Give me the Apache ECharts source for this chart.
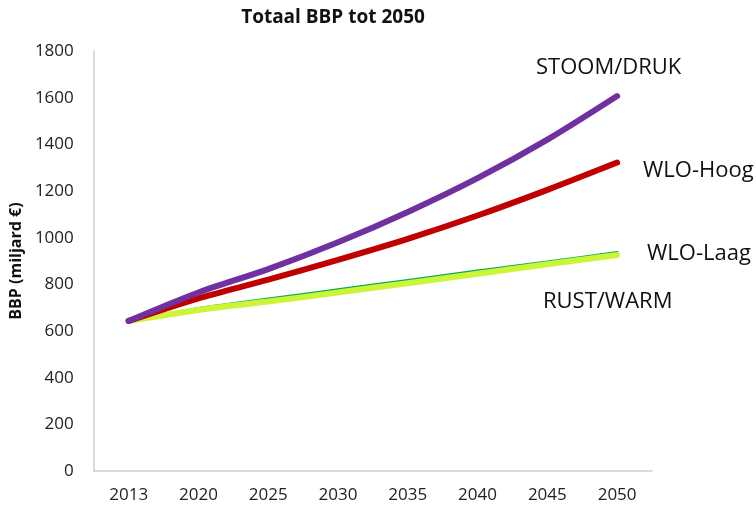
<!DOCTYPE html>
<html lang="nl">
<head>
    <meta charset="utf-8">
    <title>Totaal BBP tot 2050</title>
    <script src="https://cdn.jsdelivr.net/npm/echarts@6/dist/echarts.min.js"></script>
    <style>
        html, body { margin: 0; padding: 0; background: #fff; }
        #chart { width: 756px; height: 508px; }
    </style>
</head>
<body>
<div id="chart"></div>
<script>
    // jaren op de x-as
    var years = ['2013', '2020', '2025', '2030', '2035', '2040', '2045', '2050'];

    // BBP in miljard euro
    var stoomDruk = [643, 765, 865, 980, 1110, 1255, 1420, 1607];
    var wloHoog = [643, 740, 820, 905, 995, 1095, 1205, 1322];
    var wloLaag = [643, 697, 737, 777, 817, 857, 896, 936];
    var rustWarm = [643, 690, 726, 765, 805, 845, 886, 926];

    var font = '"Open Sans", "Liberation Sans", sans-serif';

    // losse labels naast de lijnen
    function label(x, y, text) {
        return {
            type: 'text', x: x, y: y,
            style: { text: text, fontFamily: font, fontSize: 22, fill: '#111', verticalAlign: 'middle' }
        };
    }

    var chart = echarts.init(document.getElementById('chart'));
    var option = {
        animation: false,
        title: {
            text: 'Totaal BBP tot 2050',
            left: 328,
            top: 3,
            textAlign: 'center',
            textStyle: { fontFamily: font, fontSize: 19, fontWeight: 'bold', color: '#111' }
        },
        grid: { left: 93, right: 104, top: 51, bottom: 37 },
        xAxis: {
            type: 'category',
            data: years,
            axisLine: { lineStyle: { color: '#d0d0d0', width: 1.5 } },
            axisTick: { show: false },
            axisLabel: { fontFamily: font, fontSize: 17, color: '#222', margin: 16 }
        },
        yAxis: {
            type: 'value',
            min: 0,
            max: 1800,
            interval: 200,
            name: 'BBP (miljard €)',
            nameLocation: 'middle',
            nameGap: 64,
            nameTextStyle: { fontFamily: font, fontSize: 16, fontWeight: 'bold', color: '#111' },
            axisLine: { show: true, lineStyle: { color: '#d0d0d0', width: 1.5 } },
            axisTick: { show: false },
            splitLine: { show: false },
            axisLabel: {
                fontFamily: font, fontSize: 17, color: '#222', margin: 20,
                formatter: function (v) { return String(v); }
            }
        },
        series: [
            {
                name: 'WLO-Laag', type: 'line', data: wloLaag, smooth: 0.3, symbol: 'none',
                lineStyle: { color: '#00b050', width: 3, cap: 'round' }
            },
            {
                name: 'RUST/WARM', type: 'line', data: rustWarm, smooth: 0.3, symbol: 'none',
                lineStyle: { color: '#ccf53a', width: 6, cap: 'round' }
            },
            {
                name: 'WLO-Hoog', type: 'line', data: wloHoog, smooth: 0.3, symbol: 'none',
                lineStyle: { color: '#c00000', width: 6, cap: 'round' }
            },
            {
                name: 'STOOM/DRUK', type: 'line', data: stoomDruk, smooth: 0.3, symbol: 'none',
                lineStyle: { color: '#7030a0', width: 6, cap: 'round' }
            }
        ],
        graphic: [
            label(536, 68, 'STOOM/DRUK'),
            label(643, 171, 'WLO-Hoog'),
            label(647, 254, 'WLO-Laag'),
            label(543, 302, 'RUST/WARM')
        ]
    };
    chart.setOption(option);
</script>
</body>
</html>
